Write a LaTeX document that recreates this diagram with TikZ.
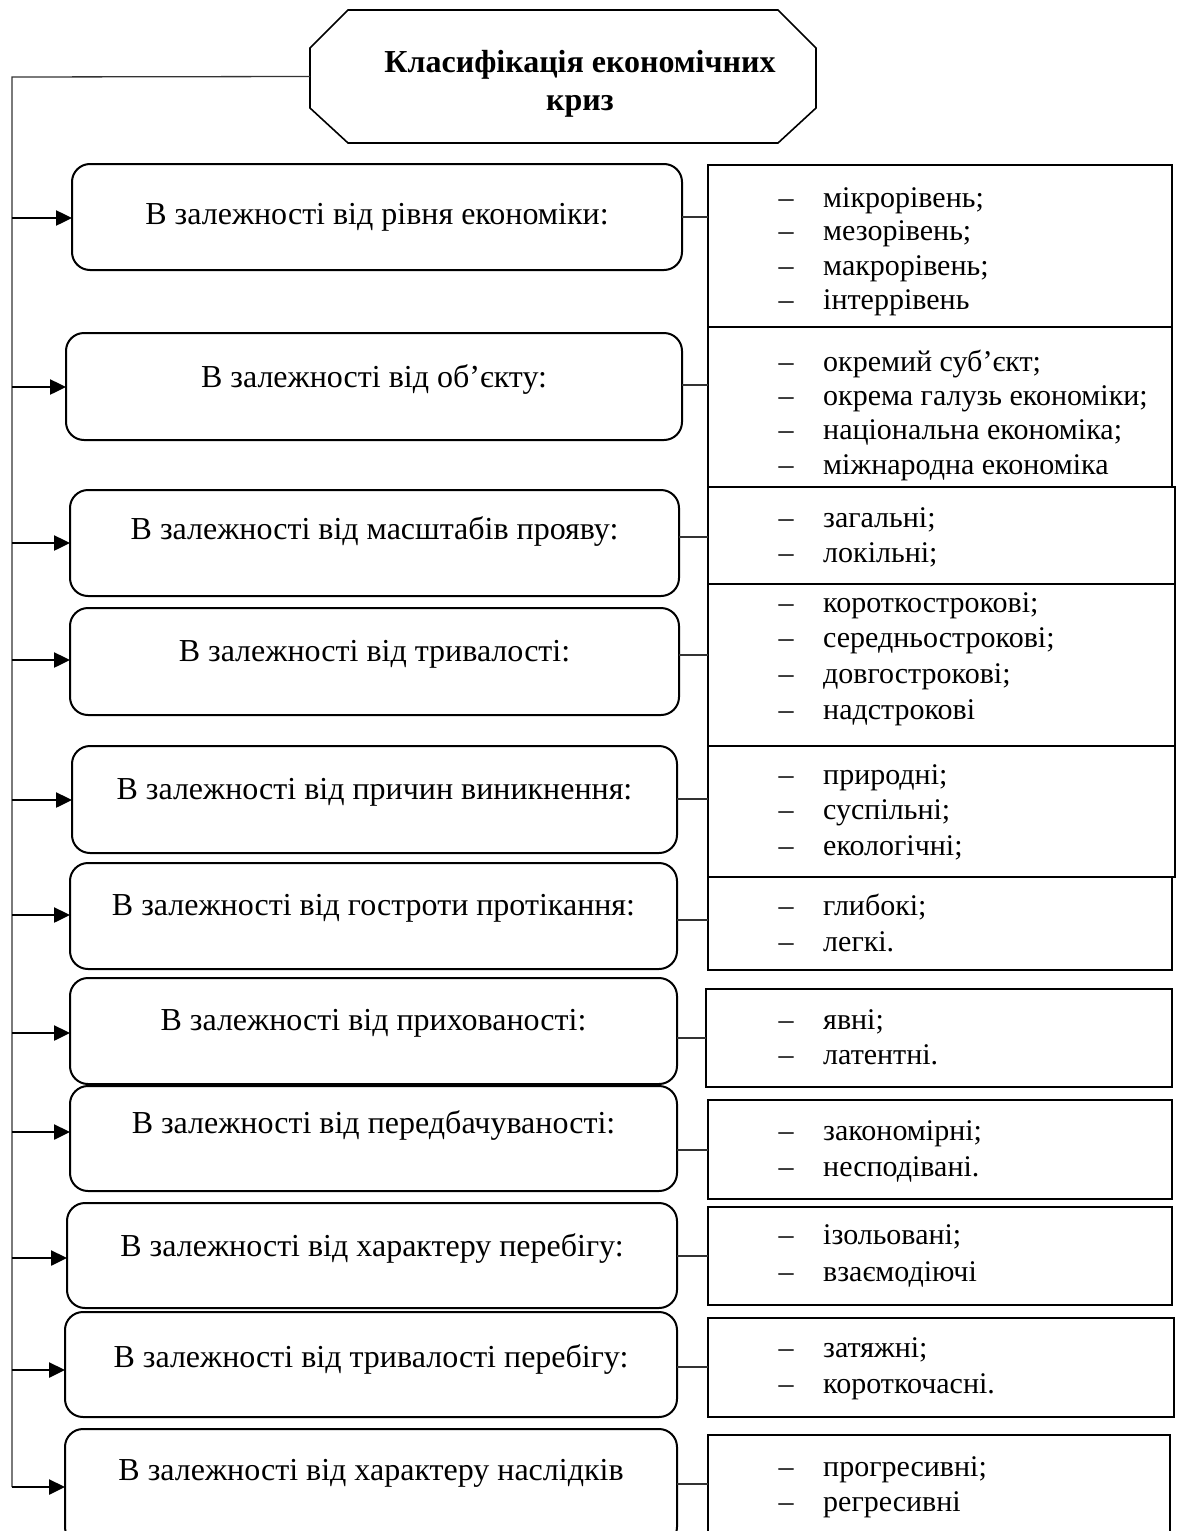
\documentclass[tikz,border=0pt]{standalone}
\usepackage{fontspec}
\setmainfont{Liberation Serif}
\usetikzlibrary{arrows.meta}
\tikzset{
  lbox/.style={draw, line width=2pt, rounded corners=18pt, inner sep=0pt, outer sep=0pt},
  rbox/.style={draw, line width=2.2pt, inner sep=0pt, outer sep=0pt},
  ltext/.style={anchor=mid, inner sep=0pt, yshift=-6pt, font=\fontsize{32}{38}\selectfont},
  itemtext/.style={anchor=mid west, inner sep=0pt, yshift=-5pt, font=\fontsize{30}{35}\selectfont},
  dashtext/.style={anchor=mid, inner sep=0pt, yshift=-5pt, font=\fontsize{30}{35}\selectfont},
  conn/.style={line width=1.2pt, draw=black!80},
  spine/.style={line width=1.3pt, draw=black!80},
  arr/.style={line width=2.5pt, -{Triangle[length=16pt,width=15pt]}},
  hdr/.style={line width=1.6pt},
  hdrtext/.style={align=center, inner sep=0pt, font=\fontsize{32}{38}\selectfont\bfseries}
}
\newcommand{\mkleft}[7]{%
  \node[lbox, minimum width={#4-#2}, minimum height={#5-#3}] (#1) at ({(#2+#4)/2},{(#3+#5)/2}) {};
  \node[ltext] (#1t) at ({(#2+#4)/2},#6) {#7};
}
\newcommand{\mkright}[5]{%
  \node[rbox, minimum width={#4-#2}, minimum height={#5-#3}] (#1) at ({(#2+#4)/2},{(#3+#5)/2}) {};
}
\newcommand{\mkitem}[3]{%
  \node[dashtext] (#1d) at (786,#2) {–};
  \node[itemtext] (#1) at (823,#2) {#3};
}
\begin{document}
\begin{tikzpicture}[x=1pt,y=-1pt]
\useasboundingbox (0,0) rectangle (1179,1531);
% header
\node[minimum width=506pt, minimum height=133pt, inner sep=0pt, outer sep=0pt] (H) at (563,76.5) {};
\draw[hdr] (348,10) -- (778,10) -- (816,48) -- (816,108) -- (778,143) -- (348,143) -- (310,108) -- (310,48) -- cycle;
\node[hdrtext] (Ht) at (580,84) {Класифікація економічних\\криз};
% spine
\coordinate (S) at (12,77);
\coordinate (Se) at (12,1487);
\draw[spine] (H.west) -- (S) -- (Se);
% left boxes
\mkleft{L1}{72}{164}{682}{270}{216}{В залежності від рівня економіки:}
\mkleft{L2}{66}{333}{682}{440}{379}{В залежності від об’єкту:}
\mkleft{L3}{70}{490}{679}{596}{531}{В залежності від масштабів прояву:}
\mkleft{L4}{70}{608}{679}{715}{653}{В залежності від тривалості:}
\mkleft{L5}{72}{746}{677}{853}{791}{В залежності від причин виникнення:}
\mkleft{L6}{70}{863}{677}{969}{907}{В залежності від гостроти протікання:}
\mkleft{L7}{70}{978}{677}{1084}{1022}{В залежності від прихованості:}
\mkleft{L8}{70}{1086}{677}{1191}{1125}{В залежності від передбачуваності:}
\mkleft{L9}{67}{1203}{677}{1308}{1248}{В залежності від характеру перебігу:}
\mkleft{L10}{65}{1312}{677}{1417}{1359}{В залежності від тривалості перебігу:}
\mkleft{L11}{65}{1429}{677}{1545}{1472}{В залежності від характеру наслідків}
% arrows
\draw[arr] (S |- 0,218) -- (L1.west |- 0,218);
\draw[arr] (S |- 0,387) -- (L2.west |- 0,387);
\draw[arr] (S |- 0,543) -- (L3.west |- 0,543);
\draw[arr] (S |- 0,660) -- (L4.west |- 0,660);
\draw[arr] (S |- 0,800) -- (L5.west |- 0,800);
\draw[arr] (S |- 0,915) -- (L6.west |- 0,915);
\draw[arr] (S |- 0,1033) -- (L7.west |- 0,1033);
\draw[arr] (S |- 0,1132) -- (L8.west |- 0,1132);
\draw[arr] (S |- 0,1258) -- (L9.west |- 0,1258);
\draw[arr] (S |- 0,1370) -- (L10.west |- 0,1370);
\draw[arr] (Se) -- (L11.west |- Se);
% right boxes
\mkright{R1}{708}{165}{1172}{327}
\mkright{R2}{708}{327}{1172}{487}
\mkright{R3}{708}{487}{1175}{584}
\mkright{R4}{708}{584}{1175}{746}
\mkright{R5}{708}{746}{1175}{877}
\mkright{R6}{708}{877}{1172}{970}
\mkright{R7}{706}{989}{1172}{1087}
\mkright{R8}{708}{1100}{1172}{1199}
\mkright{R9}{708}{1207}{1172}{1305}
\mkright{R10}{708}{1318}{1174}{1417}
\mkright{R11}{708}{1435}{1170}{1545}
% connectors
\draw[conn] (L1.east |- 0,217) -- (R1.west |- 0,217);
\draw[conn] (L2.east |- 0,385) -- (R2.west |- 0,385);
\draw[conn] (L3.east |- 0,537) -- (R3.west |- 0,537);
\draw[conn] (L4.east |- 0,655) -- (R4.west |- 0,655);
\draw[conn] (L5.east |- 0,799) -- (R5.west |- 0,799);
\draw[conn] (L6.east |- 0,920) -- (R6.west |- 0,920);
\draw[conn] (L7.east |- 0,1038) -- (R7.west |- 0,1038);
\draw[conn] (L8.east |- 0,1150) -- (R8.west |- 0,1150);
\draw[conn] (L9.east |- 0,1256) -- (R9.west |- 0,1256);
\draw[conn] (L10.east |- 0,1367) -- (R10.west |- 0,1367);
\draw[conn] (L11.east |- 0,1484) -- (R11.west |- 0,1484);
% items
\mkitem{a1}{200}{мікрорівень;}
\mkitem{a2}{233}{мезорівень;}
\mkitem{a3}{268}{макрорівень;}
\mkitem{a4}{302}{інтеррівень}
\mkitem{b1}{364}{окремий суб’єкт;}
\mkitem{b2}{398}{окрема галузь економіки;}
\mkitem{b3}{432}{національна економіка;}
\mkitem{b4}{467}{міжнародна економіка}
\mkitem{c1}{520}{загальні;}
\mkitem{c2}{555}{локільні;}
\mkitem{d1}{605}{короткострокові;}
\mkitem{d2}{640}{середньострокові;}
\mkitem{d3}{676}{довгострокові;}
\mkitem{d4}{712}{надстрокові}
\mkitem{e1}{777}{природні;}
\mkitem{e2}{812}{суспільні;}
\mkitem{e3}{848}{екологічні;}
\mkitem{f1}{908}{глибокі;}
\mkitem{f2}{944}{легкі.}
\mkitem{g1}{1022}{явні;}
\mkitem{g2}{1057}{латентні.}
\mkitem{h1}{1133}{закономірні;}
\mkitem{h2}{1169}{несподівані.}
\mkitem{i1}{1237}{ізольовані;}
\mkitem{i2}{1274}{взаємодіючі}
\mkitem{j1}{1350}{затяжні;}
\mkitem{j2}{1386}{короткочасні.}
\mkitem{k1}{1469}{прогресивні;}
\mkitem{k2}{1504}{регресивні}
\end{tikzpicture}
\end{document}
